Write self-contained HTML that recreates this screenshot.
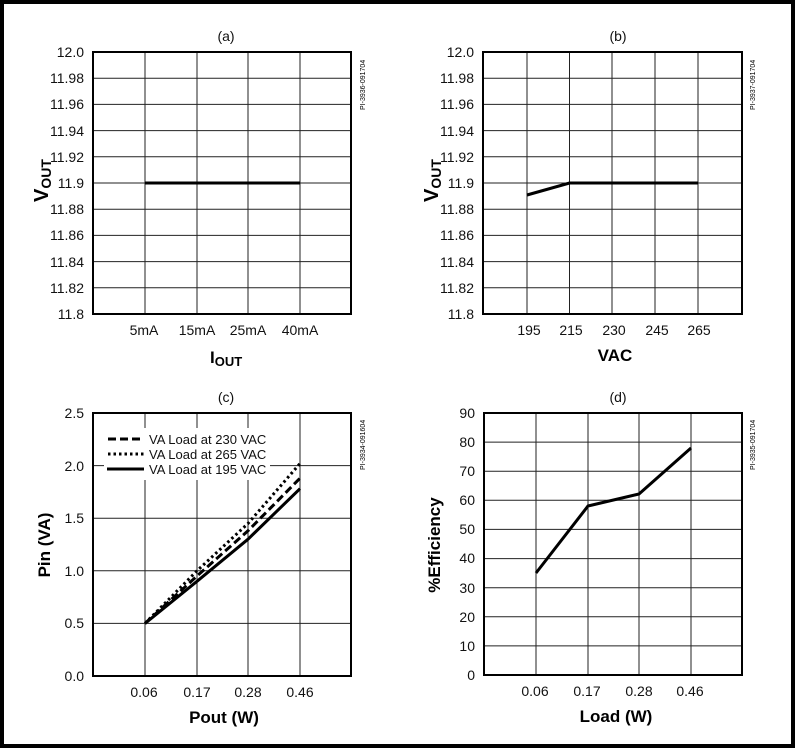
<!DOCTYPE html>
<html><head><style>
html,body{margin:0;padding:0;background:#fff;}
svg{display:block;font-family:"Liberation Sans",Arial,sans-serif;}
</style></head><body>
<svg width="795" height="748" viewBox="0 0 795 748" xmlns="http://www.w3.org/2000/svg">
<rect x="2" y="2" width="791" height="744" fill="#fff" stroke="#000" stroke-width="4"/>

<!-- (a) -->
<g stroke="#222" stroke-width="1">
<line x1="145" y1="52" x2="145" y2="314"/><line x1="197" y1="52" x2="197" y2="314"/><line x1="248" y1="52" x2="248" y2="314"/><line x1="300" y1="52" x2="300" y2="314"/>
<line x1="93" y1="78.2" x2="351" y2="78.2"/><line x1="93" y1="104.4" x2="351" y2="104.4"/><line x1="93" y1="130.6" x2="351" y2="130.6"/><line x1="93" y1="156.8" x2="351" y2="156.8"/><line x1="93" y1="183" x2="351" y2="183"/><line x1="93" y1="209.2" x2="351" y2="209.2"/><line x1="93" y1="235.4" x2="351" y2="235.4"/><line x1="93" y1="261.6" x2="351" y2="261.6"/><line x1="93" y1="287.8" x2="351" y2="287.8"/>
</g>
<rect x="93" y="52" width="258" height="262" fill="none" stroke="#000" stroke-width="2"/>
<line x1="145" y1="183" x2="300" y2="183" stroke="#000" stroke-width="3"/>
<g font-size="14" text-anchor="end" fill="#111">
<text x="84" y="57">12.0</text><text x="84" y="83">11.98</text><text x="84" y="109">11.96</text><text x="84" y="136">11.94</text><text x="84" y="162">11.92</text><text x="84" y="188">11.9</text><text x="84" y="214">11.88</text><text x="84" y="240">11.86</text><text x="84" y="267">11.84</text><text x="84" y="293">11.82</text><text x="84" y="319">11.8</text>
</g>
<g font-size="14" text-anchor="middle" fill="#111">
<text x="144" y="335">5mA</text><text x="197" y="335">15mA</text><text x="248" y="335">25mA</text><text x="300" y="335">40mA</text>
<text x="226" y="41">(a)</text>
</g>
<text x="210" y="363" font-size="17" font-weight="bold">I<tspan font-size="13" dy="3">OUT</tspan></text>
<text transform="translate(48,202) rotate(-90)" font-size="20" font-weight="bold">V<tspan font-size="14" dy="3">OUT</tspan></text>
<text transform="translate(365,110) rotate(-90)" font-size="7">PI-3936-091704</text>

<!-- (b) -->
<g stroke="#222" stroke-width="1">
<line x1="527" y1="52" x2="527" y2="314"/><line x1="569.5" y1="52" x2="569.5" y2="314"/><line x1="612" y1="52" x2="612" y2="314"/><line x1="655" y1="52" x2="655" y2="314"/><line x1="698" y1="52" x2="698" y2="314"/>
<line x1="483" y1="78.2" x2="742" y2="78.2"/><line x1="483" y1="104.4" x2="742" y2="104.4"/><line x1="483" y1="130.6" x2="742" y2="130.6"/><line x1="483" y1="156.8" x2="742" y2="156.8"/><line x1="483" y1="183" x2="742" y2="183"/><line x1="483" y1="209.2" x2="742" y2="209.2"/><line x1="483" y1="235.4" x2="742" y2="235.4"/><line x1="483" y1="261.6" x2="742" y2="261.6"/><line x1="483" y1="287.8" x2="742" y2="287.8"/>
</g>
<rect x="483" y="52" width="259" height="262" fill="none" stroke="#000" stroke-width="2"/>
<polyline points="527,195 569.5,183 698,183" fill="none" stroke="#000" stroke-width="3"/>
<g font-size="14" text-anchor="end" fill="#111">
<text x="474" y="57">12.0</text><text x="474" y="83">11.98</text><text x="474" y="109">11.96</text><text x="474" y="136">11.94</text><text x="474" y="162">11.92</text><text x="474" y="188">11.9</text><text x="474" y="214">11.88</text><text x="474" y="240">11.86</text><text x="474" y="267">11.84</text><text x="474" y="293">11.82</text><text x="474" y="319">11.8</text>
</g>
<g font-size="14" text-anchor="middle" fill="#111">
<text x="529" y="335">195</text><text x="571" y="335">215</text><text x="614" y="335">230</text><text x="657" y="335">245</text><text x="699" y="335">265</text>
<text x="618" y="41">(b)</text>
</g>
<text x="615" y="361" font-size="17" font-weight="bold" text-anchor="middle">VAC</text>
<text transform="translate(438,202) rotate(-90)" font-size="20" font-weight="bold">V<tspan font-size="14" dy="3">OUT</tspan></text>
<text transform="translate(755,110) rotate(-90)" font-size="7">PI-3937-091704</text>

<!-- (c) -->
<g stroke="#222" stroke-width="1">
<line x1="145" y1="413" x2="145" y2="676"/><line x1="197" y1="413" x2="197" y2="676"/><line x1="248" y1="413" x2="248" y2="676"/><line x1="300" y1="413" x2="300" y2="676"/>
<line x1="93" y1="465.6" x2="351" y2="465.6"/><line x1="93" y1="518.2" x2="351" y2="518.2"/><line x1="93" y1="570.8" x2="351" y2="570.8"/><line x1="93" y1="623.4" x2="351" y2="623.4"/>
</g>
<rect x="104" y="428" width="166" height="52" fill="#fff"/>
<rect x="93" y="413" width="258" height="263" fill="none" stroke="#000" stroke-width="2"/>
<polyline points="145,623.4 197,570.8 248,523.5 300,463.5" fill="none" stroke="#000" stroke-width="3" stroke-dasharray="2.5,3"/>
<polyline points="145,623.4 197,576 248,530.8 300,478.2" fill="none" stroke="#000" stroke-width="3" stroke-dasharray="8,4"/>
<polyline points="145,623.4 197,581.3 248,539.2 300,488.7" fill="none" stroke="#000" stroke-width="3"/>
<line x1="108" y1="439" x2="144" y2="439" stroke="#000" stroke-width="3" stroke-dasharray="8,4"/>
<line x1="108" y1="454" x2="144" y2="454" stroke="#000" stroke-width="3" stroke-dasharray="2.5,3"/>
<line x1="107" y1="469" x2="144" y2="469" stroke="#000" stroke-width="3"/>
<g font-size="13" fill="#111">
<text x="149" y="444">VA Load at 230 VAC</text><text x="149" y="459">VA Load at 265 VAC</text><text x="149" y="474">VA Load at 195 VAC</text>
</g>
<g font-size="14" text-anchor="end" fill="#111">
<text x="84" y="418">2.5</text><text x="84" y="471">2.0</text><text x="84" y="523">1.5</text><text x="84" y="576">1.0</text><text x="84" y="628">0.5</text><text x="84" y="681">0.0</text>
</g>
<g font-size="14" text-anchor="middle" fill="#111">
<text x="144" y="697">0.06</text><text x="197" y="697">0.17</text><text x="248" y="697">0.28</text><text x="300" y="697">0.46</text>
<text x="226" y="402">(c)</text>
</g>
<text x="224" y="723" font-size="17" font-weight="bold" text-anchor="middle">Pout (W)</text>
<text transform="translate(50,545) rotate(-90)" font-size="17" font-weight="bold" text-anchor="middle">Pin (VA)</text>
<text transform="translate(365,470) rotate(-90)" font-size="7">PI-3934-091604</text>

<!-- (d) -->
<g stroke="#222" stroke-width="1">
<line x1="536" y1="413" x2="536" y2="675"/><line x1="588" y1="413" x2="588" y2="675"/><line x1="639" y1="413" x2="639" y2="675"/><line x1="691" y1="413" x2="691" y2="675"/>
<line x1="484" y1="442.1" x2="742" y2="442.1"/><line x1="484" y1="471.2" x2="742" y2="471.2"/><line x1="484" y1="500.3" x2="742" y2="500.3"/><line x1="484" y1="529.4" x2="742" y2="529.4"/><line x1="484" y1="558.6" x2="742" y2="558.6"/><line x1="484" y1="587.7" x2="742" y2="587.7"/><line x1="484" y1="616.8" x2="742" y2="616.8"/><line x1="484" y1="645.9" x2="742" y2="645.9"/>
</g>
<rect x="484" y="413" width="258" height="262" fill="none" stroke="#000" stroke-width="2"/>
<polyline points="536,573 588,506 639,494 691,448" fill="none" stroke="#000" stroke-width="3"/>
<g font-size="14" text-anchor="end" fill="#111">
<text x="475" y="418">90</text><text x="475" y="447">80</text><text x="475" y="476">70</text><text x="475" y="505">60</text><text x="475" y="534">50</text><text x="475" y="563">40</text><text x="475" y="593">30</text><text x="475" y="622">20</text><text x="475" y="651">10</text><text x="475" y="680">0</text>
</g>
<g font-size="14" text-anchor="middle" fill="#111">
<text x="535" y="696">0.06</text><text x="587" y="696">0.17</text><text x="639" y="696">0.28</text><text x="690" y="696">0.46</text>
<text x="618" y="402">(d)</text>
</g>
<text x="616" y="722" font-size="17" font-weight="bold" text-anchor="middle">Load (W)</text>
<text transform="translate(440,545) rotate(-90)" font-size="17" font-weight="bold" text-anchor="middle">%Efficiency</text>
<text transform="translate(755,470) rotate(-90)" font-size="7">PI-3935-091704</text>
</svg>
</body></html>
